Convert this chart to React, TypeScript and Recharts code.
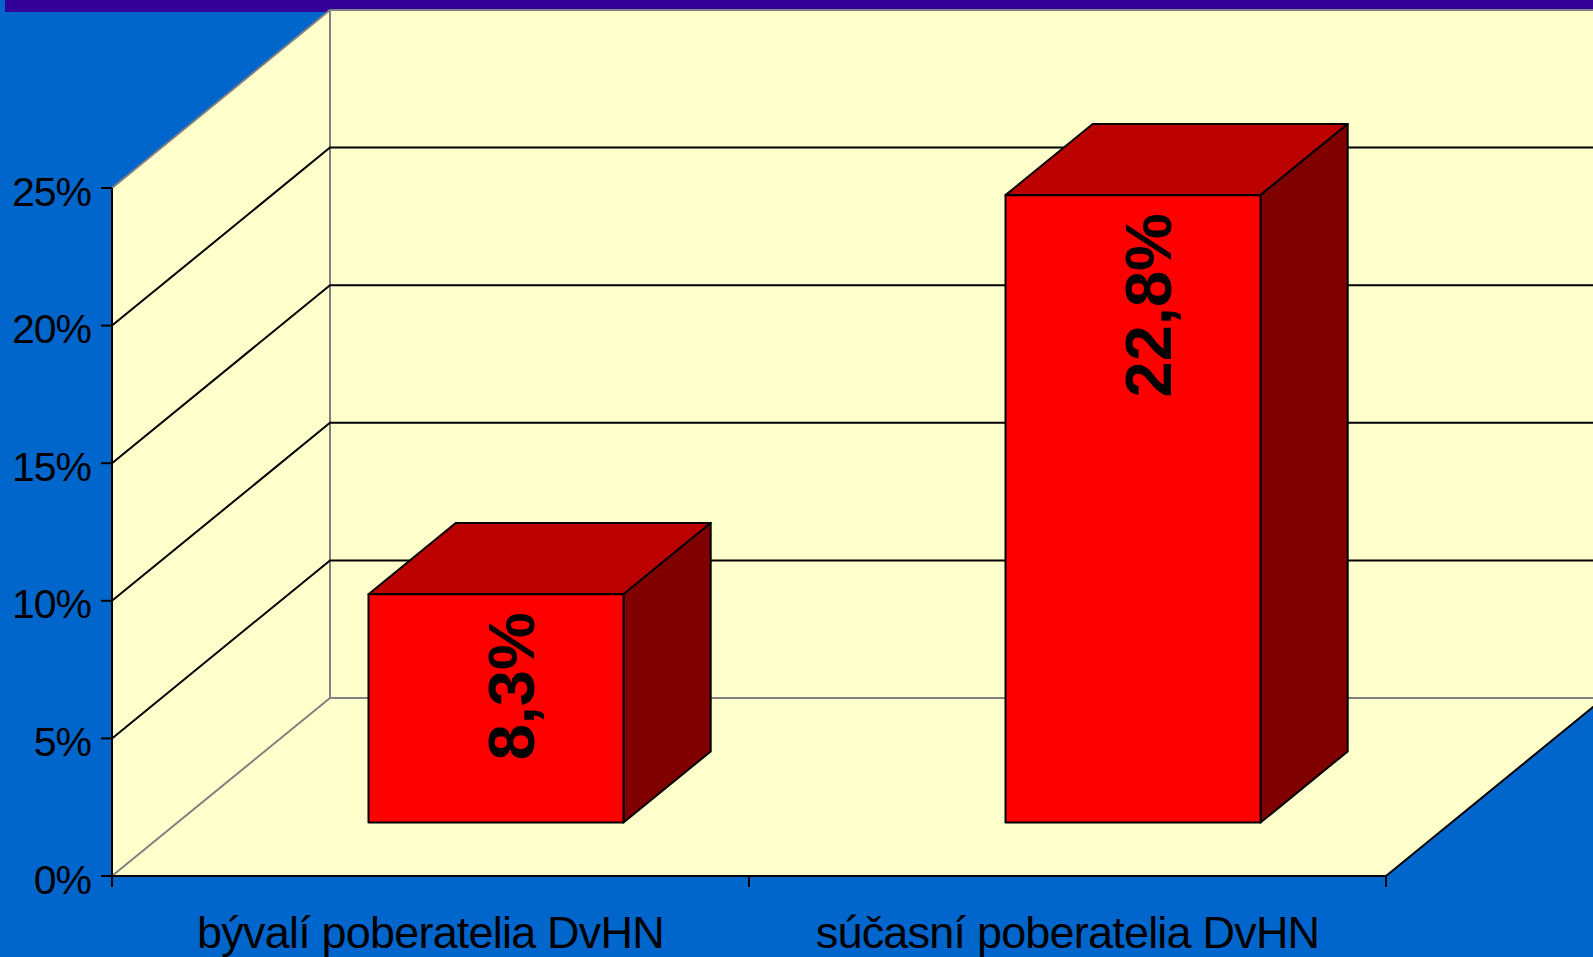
import { BarChart, Bar, XAxis, YAxis, CartesianGrid, ReferenceArea, LabelList } from 'recharts'

const CATEGORIES = ['bývalí poberatelia DvHN', 'súčasní poberatelia DvHN']
const VALUES = [8.3, 22.8]
const Y_TICKS = [0, 5, 10, 15, 20, 25]
const GRID_VALUES = [5, 10, 15, 20]

const data = CATEGORIES.map((name, i) => ({ name, value: VALUES[i] }))

// 3D projection offsets (px) for the full depth of the floor
const DX = 218
const DY = 178
const FRONT = 0.3
const DEPTH = 0.4

const FONT = '"Liberation Sans", Arial, sans-serif'
const GRAY = '#808080'

// eslint-disable-next-line @typescript-eslint/no-explicit-any
function Walls(props: any) {
  const { x, y, width, height } = props
  const L = x
  const T = y
  const R = x + width
  const B = y + height
  const pts = [
    [L, B], [L, T], [L + DX, T - DY], [R + DX, T - DY], [R + DX, B - DY], [R, B],
  ].map(p => p.join(',')).join(' ')
  return (
    <g>
      <polygon points={pts} fill="#FFFFCC" stroke="none" />
      <path
        d={`M${L},${T} L${L + DX},${T - DY} L${R + DX},${T - DY} M${L + DX},${T - DY} L${L + DX},${B - DY} L${R + DX},${B - DY} M${L},${B} L${L + DX},${B - DY}`}
        stroke={GRAY}
        strokeWidth={2}
        fill="none"
      />
      <line x1={R} y1={B} x2={R + DX} y2={B - DY} stroke="#000" strokeWidth={2} />
    </g>
  )
}

// eslint-disable-next-line @typescript-eslint/no-explicit-any
function GridLine(props: any) {
  const { x1, y1, x2, key } = props
  return (
    <path
      key={key}
      d={`M${x1},${y1} L${x1 + DX},${y1 - DY} L${x2 + DX},${y1 - DY}`}
      stroke="#000"
      strokeWidth={2}
      fill="none"
    />
  )
}

// eslint-disable-next-line @typescript-eslint/no-explicit-any
function Box(props: any) {
  const { x, y, width, height } = props
  const fx = x + DX * FRONT
  const fy = y - DY * FRONT
  const dx = DX * DEPTH
  const dy = DY * DEPTH
  return (
    <g stroke="#000" strokeWidth={2} strokeLinejoin="round">
      <polygon
        points={`${fx},${fy} ${fx + width},${fy} ${fx + width + dx},${fy - dy} ${fx + dx},${fy - dy}`}
        fill="#BC0000"
      />
      <polygon
        points={`${fx + width},${fy} ${fx + width + dx},${fy - dy} ${fx + width + dx},${fy + height - dy} ${fx + width},${fy + height}`}
        fill="#800000"
      />
      <rect x={fx} y={fy} width={width} height={height} fill="#FF0000" />
    </g>
  )
}

// eslint-disable-next-line @typescript-eslint/no-explicit-any
function BoxLabel(props: any) {
  const { x, y, width, value } = props
  const cx = x + DX * FRONT + width / 2 + 16
  const top = y - DY * FRONT + 18
  return (
    <text
      x={cx}
      y={top}
      transform={`rotate(-90, ${cx}, ${top})`}
      textAnchor="end"
      dominantBaseline="central"
      fontFamily={FONT}
      fontWeight="bold"
      fontSize={65}
      fill="#000"
    >
      {`${String(value).replace('.', ',')}%`}
    </text>
  )
}

// eslint-disable-next-line @typescript-eslint/no-explicit-any
function CategoryTick(props: any) {
  const { x, y, payload } = props
  const half = payload?.offset ?? 318.5
  return (
    <g>
      <line x1={x - half} y1={y} x2={x - half} y2={y + 11} stroke="#000" strokeWidth={2} />
      <line x1={x + half} y1={y} x2={x + half} y2={y + 11} stroke="#000" strokeWidth={2} />
      <text
        x={x}
        y={y + 72}
        textAnchor="middle"
        fontFamily={FONT}
        fontSize={45}
        letterSpacing={-0.8}
        fill="#000"
      >
        {payload.value}
      </text>
    </g>
  )
}

export default function App() {
  return (
    <div
      style={{
        position: 'fixed',
        left: 0,
        top: 0,
        width: 1593,
        height: 957,
        background: '#0066CC',
        fontFamily: FONT,
        overflow: 'hidden',
      }}
    >
      <div style={{ position: 'absolute', left: 5, top: 0, width: 1588, height: 12, background: '#330099' }} />
      <div style={{ position: 'absolute', left: 0, top: 0 }}>
        <BarChart
          width={1593}
          height={957}
          data={data}
          margin={{ top: 188, right: 207, bottom: 11, left: 12 }}
          barCategoryGap="30%"
        >
          <ReferenceArea y1={0} y2={25} shape={Walls} zIndex={-200} />
          <CartesianGrid vertical={false} horizontalValues={GRID_VALUES} horizontal={GridLine} fill="none" />
          <XAxis
            dataKey="name"
            height={70}
            tickSize={0}
            tickMargin={0}
            tickLine={false}
            axisLine={{ stroke: '#000', strokeWidth: 2 }}
            tick={<CategoryTick />}
            interval={0}
          />
          <YAxis
            domain={[0, 25]}
            ticks={Y_TICKS}
            interval={0}
            width={100}
            tickSize={11}
            tickMargin={10}
            tickFormatter={v => `${v}%`}
            axisLine={{ stroke: '#000', strokeWidth: 2 }}
            tickLine={{ stroke: '#000', strokeWidth: 2 }}
            tick={{ fill: '#000', fontSize: 41, fontFamily: FONT, letterSpacing: -1, dy: 3 }}
          />
          <Bar dataKey="value" shape={Box} isAnimationActive={false}>
            <LabelList dataKey="value" content={BoxLabel} />
          </Bar>
        </BarChart>
      </div>
    </div>
  )
}
